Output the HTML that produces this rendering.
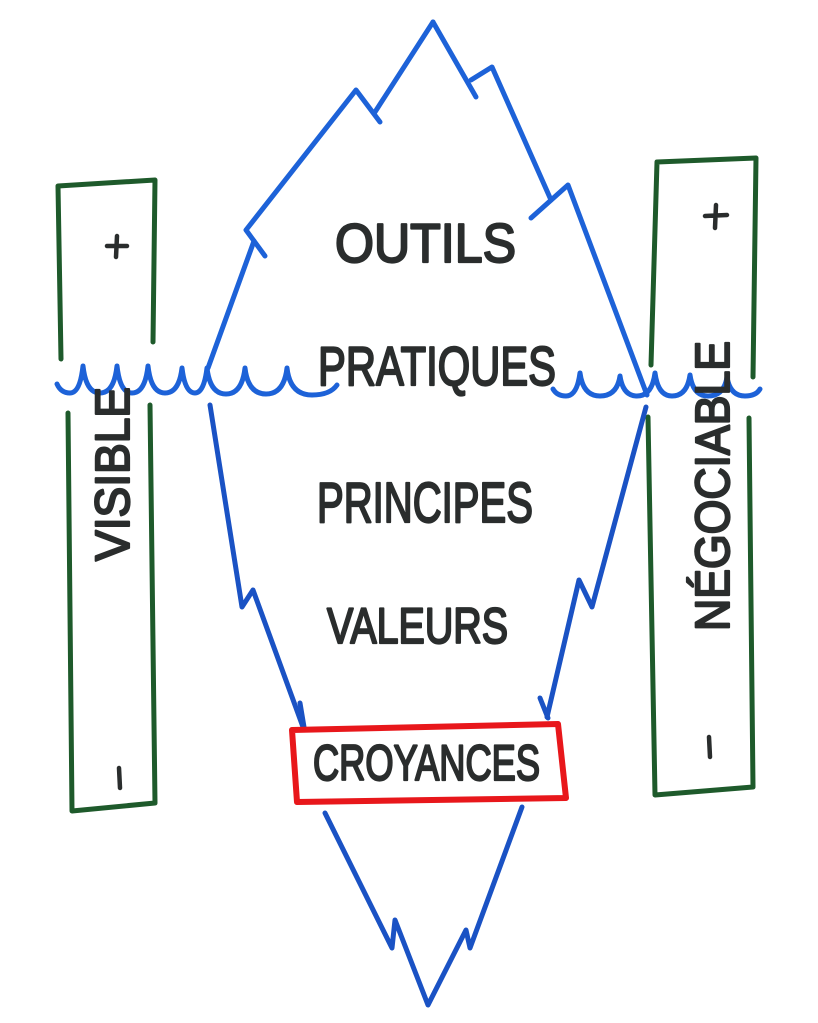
<!DOCTYPE html>
<html>
<head>
<meta charset="utf-8">
<style>
html,body{margin:0;padding:0;background:#ffffff;}
svg{display:block;}
text{font-family:"Liberation Sans",sans-serif;font-weight:normal;fill:#2a2d2d;stroke:#2a2d2d;stroke-width:2.2;stroke-linejoin:round;}
</style>
</head>
<body>
<svg width="818" height="1023" viewBox="0 0 818 1023" xmlns="http://www.w3.org/2000/svg">
<rect width="818" height="1023" fill="#ffffff"/>

<!-- green boxes -->
<g fill="none" stroke="#1e5a2b" stroke-width="5" stroke-linecap="round" stroke-linejoin="round">
  <path d="M61,359 L58,186 L155,180 L153,342"/>
  <path d="M68,413 L72,811 L155,803 L150,405"/>
  <path d="M651,365 L657,162 L756,158 L753,377"/>
  <path d="M648,417 L655,795 L753,787 L749,418"/>
</g>

<!-- plus / minus -->
<g fill="none" stroke="#2a2d2d" stroke-width="4.5" stroke-linecap="round">
  <path d="M117,236 L116,257 M107,246 L127,246"/>
  <path d="M716,205 L715,228 M705,216 L727,215"/>
  <path d="M119,768 L120,788"/>
  <path d="M709,737 L710,757"/>
</g>

<!-- iceberg top -->
<g fill="none" stroke="#1d62d8" stroke-width="5" stroke-linecap="round" stroke-linejoin="round">
  <path d="M433,22 L375,112"/>
  <path d="M380,122 L356,90 L246,230 L265,256"/>
  <path d="M254,241 L208,368"/>
  <path d="M433,22 L476,97"/>
  <path d="M471,80 L492,67 L551,200"/>
  <path d="M531,218 L568,185 L647,395"/>
</g>

<!-- iceberg below water -->
<g fill="none" stroke="#1a52c4" stroke-width="5" stroke-linecap="round" stroke-linejoin="round">
  <path d="M210,405 L242,607 L253,590 L303,727"/>
  <path d="M300,703 L304,727"/>
  <path d="M646,407 L592,607 L579,580 L547,717"/>
  <path d="M540,698 L548,718"/>
  <path d="M325,813 L392,948 L395,920 L428,1005 L466,930 L470,948 L522,807"/>
</g>

<!-- waves -->
<g fill="none" stroke="#1d62d8" stroke-width="5" stroke-linecap="round" stroke-linejoin="round">
  <path d="M57,384 Q61,393 70,393 Q80,393 83,366
           Q86,393 100,393 Q114,393 117,366
           Q120,393 132,393 Q145,393 148,366
           Q151,393 165,393 Q179,393 182,368
           Q185,393 195,393 Q204,393 207,368
           Q210,394 226,394 Q242,394 245,368
           Q248,394 266,394 Q284,394 287,368
           Q290,395 312,395 Q330,395 337,385"/>
  <path d="M553,389 Q557,396 566,396 Q577,396 580,373
           Q583,396 600,396 Q617,396 620,376
           Q623,396 637,396 Q652,396 655,373
           Q658,396 672,396 Q687,396 690,375
           Q693,396 708,396 Q724,396 727,377
           Q730,396 745,396 Q756,396 760,389"/>
</g>

<!-- red box -->
<path d="M292,730 L558,724 L566,798 L297,802 Z" fill="none" stroke="#e8171b" stroke-width="6" stroke-linejoin="round"/>

<!-- labels -->
<text x="335" y="262" font-size="55" textLength="181" lengthAdjust="spacingAndGlyphs">OUTILS</text>
<text x="318" y="385" font-size="55" textLength="238" lengthAdjust="spacingAndGlyphs">PRATIQUES</text>
<text x="317" y="522" font-size="57" textLength="216" lengthAdjust="spacingAndGlyphs">PRINCIPES</text>
<text x="327" y="643" font-size="50" textLength="181" lengthAdjust="spacingAndGlyphs">VALEURS</text>
<text x="313" y="780" font-size="50" textLength="227" lengthAdjust="spacingAndGlyphs">CROYANCES</text>

<g transform="translate(112,474) rotate(-90)">
  <text x="-87" y="17" font-size="48" textLength="174" lengthAdjust="spacingAndGlyphs">VISIBLE</text>
</g>
<g transform="translate(712,486) rotate(-90)">
  <text x="-145" y="17" font-size="48" textLength="290" lengthAdjust="spacingAndGlyphs">NÉGOCIABLE</text>
</g>
</svg>
</body>
</html>
